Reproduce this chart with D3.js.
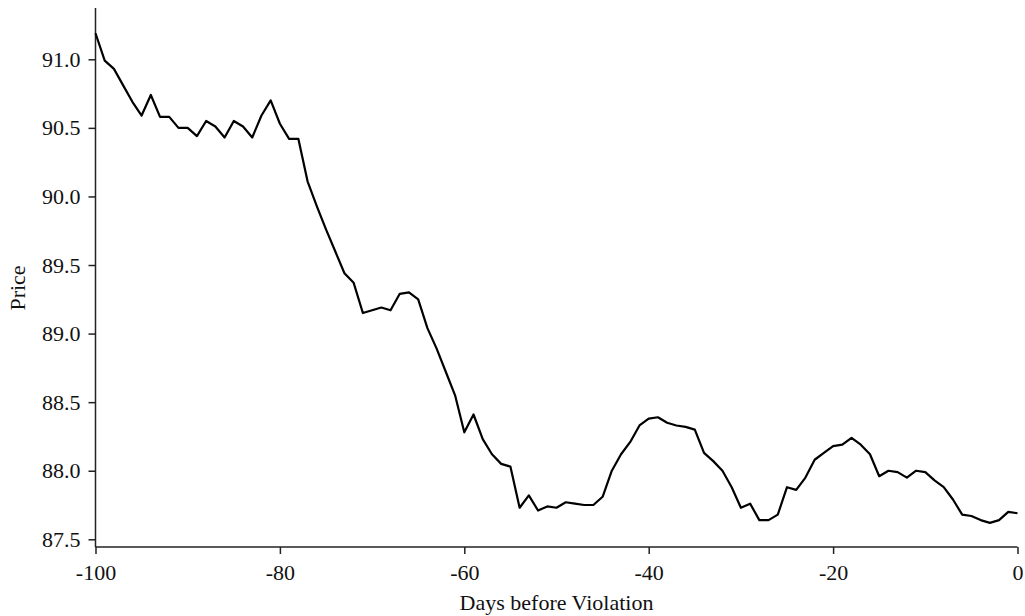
<!DOCTYPE html>
<html>
<head>
<meta charset="utf-8">
<script src="https://d3js.org/d3.v7.min.js"></script>
<style>
  body { margin: 0; background: #fff; }
</style>
</head>
<body>
<svg id="chart" width="1025" height="616"></svg>

<script>
// days before violation, one point per day
const days = d3.range(-100, 1);

const prices = [
  91.19, 90.99, 90.93, 90.81, 90.69, 90.59, 90.74, 90.58, 90.58, 90.50,
  90.50, 90.44, 90.55, 90.51, 90.43, 90.55, 90.51, 90.43, 90.59, 90.70,
  90.53, 90.42, 90.42, 90.11, 89.93, 89.76, 89.60, 89.44, 89.37, 89.15,
  89.17, 89.19, 89.17, 89.29, 89.30, 89.25, 89.04, 88.89, 88.72, 88.55,
  88.28, 88.41, 88.23, 88.12, 88.05, 88.03, 87.73, 87.82, 87.71, 87.74,
  87.73, 87.77, 87.76, 87.75, 87.75, 87.81, 88.00, 88.12, 88.21, 88.33,
  88.38, 88.39, 88.35, 88.33, 88.32, 88.30, 88.13, 88.07, 88.00, 87.88,
  87.73, 87.76, 87.64, 87.64, 87.68, 87.88, 87.86, 87.95, 88.08, 88.13,
  88.18, 88.19, 88.24, 88.19, 88.12, 87.96, 88.00, 87.99, 87.95, 88.00,
  87.99, 87.93, 87.88, 87.79, 87.68, 87.67, 87.64, 87.62, 87.64, 87.70,
  87.69
];

const xTicks = [-100, -80, -60, -40, -20, 0];
const yTicks = [87.5, 88.0, 88.5, 89.0, 89.5, 90.0, 90.5, 91.0];

const data = days.map((d, i) => ({ day: d, price: prices[i] }));

const serif = "'Liberation Serif', Tinos, 'Times New Roman', Times, serif";

const svg = d3.select('#chart');

const plotLeft = 95.5, plotRight = 1017.5, plotBottom = 547, plotTop = 8;

const x = d3.scaleLinear()
    .domain([-100, 0])
    .range([plotLeft, plotRight]);

const y = d3.scaleLinear()
    .domain([87.5, 91.0])
    .range([539.3, 59.3]);

// x axis (plain hyphen minus like the original)
const xAxisG = svg.append('g')
    .attr('transform', `translate(0,${plotBottom})`)
    .call(d3.axisBottom(x)
        .tickValues(xTicks)
        .tickFormat(d => String(d))
        .tickSize(7)
        .tickSizeOuter(0)
        .tickPadding(10));

xAxisG.select('.domain').remove();
xAxisG.append('line')
    .attr('x1', plotLeft).attr('x2', plotRight)
    .attr('y1', 0).attr('y2', 0)
    .attr('stroke', '#222')
    .attr('stroke-width', 1.5);

// y axis
const yAxisG = svg.append('g')
    .attr('transform', `translate(${plotLeft},0)`)
    .call(d3.axisLeft(y)
        .tickValues(yTicks)
        .tickFormat(d => d.toFixed(1))
        .tickSize(7)
        .tickSizeOuter(0)
        .tickPadding(8));

yAxisG.select('.domain').remove();
yAxisG.append('line')
    .attr('x1', 0).attr('x2', 0)
    .attr('y1', plotTop).attr('y2', plotBottom)
    .attr('stroke', '#222')
    .attr('stroke-width', 1.5);

svg.selectAll('g').attr('font-family', serif).attr('font-size', 22);

svg.selectAll('.tick line')
    .attr('stroke', '#222')
    .attr('stroke-width', 1.5);

svg.selectAll('.tick text')
    .attr('fill', '#111');

// axis titles
svg.append('text')
    .attr('x', (plotLeft + plotRight) / 2)
    .attr('y', 610)
    .attr('text-anchor', 'middle')
    .attr('fill', '#111')
    .attr('font-family', serif)
    .attr('font-size', 22)
    .text('Days before Violation');

svg.append('text')
    .attr('transform', 'translate(25,' + 288 + ') rotate(-90)')
    .attr('text-anchor', 'middle')
    .attr('fill', '#111')
    .attr('font-family', serif)
    .attr('font-size', 22)
    .text('Price');

// price line
const line = d3.line()
    .x(d => x(d.day))
    .y(d => y(d.price));

svg.append('path')
    .datum(data)
    .attr('fill', 'none')
    .attr('stroke', '#000')
    .attr('stroke-width', 2.2)
    .attr('stroke-linejoin', 'round')
    .attr('d', line);
</script>
</body>
</html>
